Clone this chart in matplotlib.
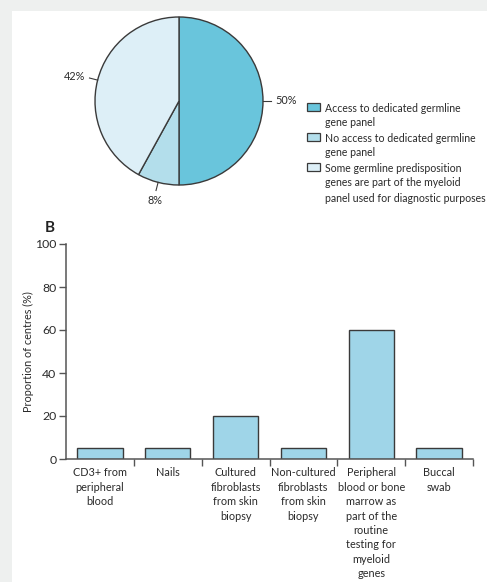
import matplotlib
matplotlib.use("Agg")
from matplotlib import pyplot as plt
from matplotlib.patches import Rectangle
import numpy as np

plt.rcParams['font.family'] = ['Lato', 'DejaVu Sans']

# ----- Panel A: germline panel access
pie_values = [50, 8, 42]
pie_colors = ["#69c5dc", "#b3deeb", "#ddeff7"]
pie_labels = ["Access to dedicated germline\ngene panel",
              "No access to dedicated germline\ngene panel",
              "Some germline predisposition\ngenes are part of the myeloid\npanel used for diagnostic purposes"]

# ----- Panel B: sample sources
categories = ["CD3+ from\nperipheral\nblood",
              "Nails",
              "Cultured\nfibroblasts\nfrom skin\nbiopsy",
              "Non-cultured\nfibroblasts\nfrom skin\nbiopsy",
              "Peripheral\nblood or bone\nmarrow as\npart of the\nroutine\ntesting for\nmyeloid\ngenes",
              "Buccal\nswab"]
proportions = [5, 5, 20, 5, 60, 5]
yticks = [0, 20, 40, 60, 80, 100]

W, H = 487, 582
edge = "#3a3a3a"
text_col = "#2a2a2a"

fig = plt.figure(figsize=(W / 100, H / 100), dpi=100)
fig.patch.set_facecolor("#eef0ef")
fig.patches.append(Rectangle((12 / W, 0), 1, 1 - 11 / H, transform=fig.transFigure,
                             facecolor="white", edgecolor="none", zorder=-5))

# pie centred at (179, 101) px, radius 84 px
cx, cy, r = 179, 101, 84
ax_pie = fig.add_axes([(cx - r) / W, 1 - (cy + r) / H, 2 * r / W, 2 * r / H])
wedges, _ = ax_pie.pie(pie_values, colors=pie_colors, startangle=90, counterclock=False,
                       wedgeprops=dict(edgecolor=edge, linewidth=1.0))
ax_pie.set_aspect("equal")
ax_pie.set_xlim(-1, 1)
ax_pie.set_ylim(-1, 1)

for w, v in zip(wedges, pie_values):
    ang = np.deg2rad((w.theta1 + w.theta2) / 2)
    x0, y0 = np.cos(ang), np.sin(ang)
    ax_pie.plot([x0 * 1.0, x0 * 1.1], [y0 * 1.0, y0 * 1.1], color=edge, lw=0.8,
                clip_on=False)
    ha = "left" if x0 > 0.3 else ("right" if x0 < -0.3 else "center")
    va = "center" if abs(y0) < 0.7 else ("top" if y0 < 0 else "bottom")
    ax_pie.text(x0 * 1.15, y0 * 1.15, f"{v}%", ha=ha, va=va, fontsize=7.8,
                color=text_col, clip_on=False)

# legend: box next to the first line of each wrapped label, 15 px per line
leg_x, y = 307, 107
for col, lab in zip(pie_colors, pie_labels):
    fig.patches.append(Rectangle((leg_x / W, 1 - (y + 4) / H), 13 / W, 8 / H,
                                 transform=fig.transFigure, facecolor=col,
                                 edgecolor=edge, linewidth=0.9))
    for line in lab.split("\n"):
        fig.text(325 / W, 1 - y / H, line, ha="left", va="center_baseline",
                 fontsize=7.6, color=text_col)
        y += 15

# ----- bar chart
ax = fig.add_axes([66 / W, 1 - 459 / H, (473 - 66) / W, (459 - 244) / H])
xs = np.arange(len(categories))
ax.bar(xs, proportions, width=0.67, color="#9fd5e8", edgecolor=edge, linewidth=1.0)
ax.set_xlim(-0.5, len(categories) - 0.5)
ax.set_ylim(0, 100)
ax.set_yticks(yticks)
ax.tick_params(axis="y", labelsize=8.8, colors="#555555", labelcolor=text_col,
               length=5, width=1.0, pad=2)
ax.set_xticks(xs)
ax.set_xticklabels(categories, fontsize=7.8, color=text_col, linespacing=1.38)
ax.tick_params(axis="x", which="major", length=0, pad=6)
ax.set_xticks(list(xs[1:] - 0.5) + [len(categories) - 0.5], minor=True)
ax.tick_params(axis="x", which="minor", length=5, width=1.0, colors="#555555",
               direction="out")
for s in ["top", "right"]:
    ax.spines[s].set_visible(False)
for s in ["left", "bottom"]:
    ax.spines[s].set_color("#555555")
    ax.spines[s].set_linewidth(1.1)
ax.set_ylabel("Proportion of centres (%)", fontsize=7.8, color=text_col, labelpad=1)
ax.set_facecolor("none")

fig.text(50 / W, 1 - 228 / H, "B", fontsize=11, fontweight="bold", color="#222222",
         ha="center", va="center")

fig.savefig("out.png", dpi=100, facecolor=fig.get_facecolor())
